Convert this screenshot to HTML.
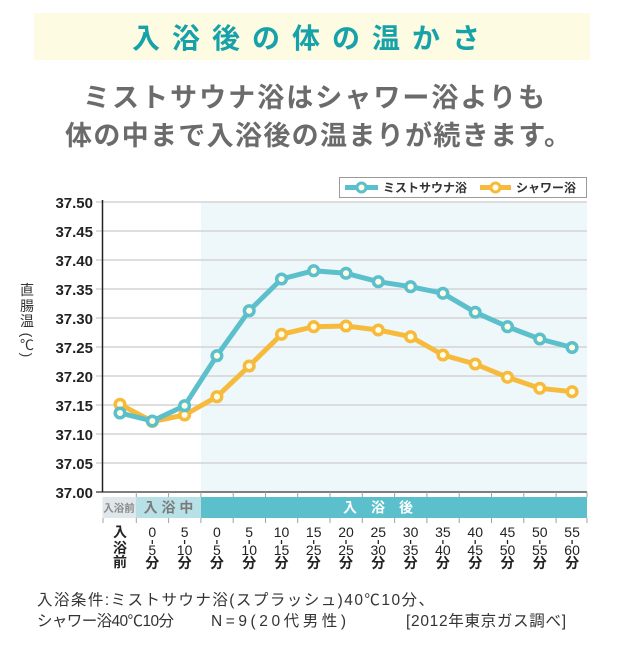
<!DOCTYPE html>
<html><head><meta charset="utf-8">
<style>
html,body{margin:0;padding:0;background:#fff;}
svg{display:block;}
</style></head>
<body>
<svg width="628" height="648" viewBox="0 0 628 648" xmlns="http://www.w3.org/2000/svg" font-family="'Liberation Sans','Noto Sans CJK JP',sans-serif">
<!-- title banner -->
<rect x="34" y="13" width="556" height="47" fill="#fdfbe2"/>
<g font-size="28" font-weight="bold" fill="#17a2aa" text-anchor="middle">
<text x="146" y="48">入</text><text x="186" y="48">浴</text><text x="226" y="48">後</text>
<text x="266" y="48">の</text><text x="306" y="48">体</text><text x="346" y="48">の</text>
<text x="386" y="48">温</text><text x="426" y="48">か</text><text x="466" y="48">さ</text>
</g>
<!-- subtitle -->
<g font-size="27" font-weight="bold" fill="#6b6b6b">
<text x="83" y="107" textLength="462" lengthAdjust="spacing">ミストサウナ浴はシャワー浴よりも</text>
<text x="65" y="145" textLength="506" lengthAdjust="spacing">体の中まで入浴後の温まりが続きます。</text>
</g>

<!-- plot area -->
<rect x="201" y="202" width="386" height="290" fill="#eef7fa"/>
<g stroke="#d3d3d3" stroke-width="1.5">
<line x1="96" y1="202" x2="587" y2="202"/>
<line x1="96" y1="231" x2="587" y2="231"/>
<line x1="96" y1="260" x2="587" y2="260"/>
<line x1="96" y1="289" x2="587" y2="289"/>
<line x1="96" y1="318" x2="587" y2="318"/>
<line x1="96" y1="347" x2="587" y2="347"/>
<line x1="96" y1="376" x2="587" y2="376"/>
<line x1="96" y1="405" x2="587" y2="405"/>
<line x1="96" y1="434" x2="587" y2="434"/>
<line x1="96" y1="463" x2="587" y2="463"/>
</g>
<line x1="96" y1="492" x2="587" y2="492" stroke="#555" stroke-width="1.5"/>
<line x1="102.5" y1="200" x2="102.5" y2="492" stroke="#222" stroke-width="1.5"/>

<!-- y labels -->
<g font-size="15" font-weight="bold" fill="#222" text-anchor="end" font-family="'Liberation Sans',sans-serif">
<text x="93" y="208">37.50</text>
<text x="93" y="237">37.45</text>
<text x="93" y="266">37.40</text>
<text x="93" y="295">37.35</text>
<text x="93" y="324">37.30</text>
<text x="93" y="353">37.25</text>
<text x="93" y="382">37.20</text>
<text x="93" y="411">37.15</text>
<text x="93" y="440">37.10</text>
<text x="93" y="469">37.05</text>
<text x="93" y="498">37.00</text>
</g>

<!-- y title -->
<g font-size="14" fill="#333" text-anchor="middle">
<text x="27" y="295">直</text>
<text x="27" y="311">腸</text>
<text x="27" y="326">温</text>
<text x="27" y="350">℃</text>
</g>
<g font-size="14" fill="#333" text-anchor="middle" font-family="'Liberation Sans',sans-serif">
<text transform="translate(22,335) rotate(90)">(</text>
<text transform="translate(22,355) rotate(90)">)</text>
</g>

<!-- band -->
<rect x="102.5" y="497" width="33.5" height="21" fill="#dfe7ea"/>
<rect x="136" y="497" width="65" height="21" fill="#b8e0e7"/>
<rect x="201" y="497" width="386" height="21" fill="#5bbfcc"/>
<text x="119" y="511.5" font-size="10.5" font-weight="bold" fill="#8a8a8a" text-anchor="middle">入浴前</text>
<text x="168.5" y="512.5" font-size="14" font-weight="bold" fill="#7a7a7a" text-anchor="middle">入 浴 中</text>
<text x="378" y="512.5" font-size="14" font-weight="bold" fill="#fff" text-anchor="middle">入　浴　後</text>

<!-- ticks -->
<g stroke="#a0a0a0" stroke-width="1">
<line x1="136.3" y1="492" x2="136.3" y2="497"/><line x1="168.6" y1="492" x2="168.6" y2="497"/>
<line x1="200.9" y1="492" x2="200.9" y2="497"/><line x1="233.2" y1="492" x2="233.2" y2="497"/>
<line x1="265.5" y1="492" x2="265.5" y2="497"/><line x1="297.7" y1="492" x2="297.7" y2="497"/>
<line x1="330" y1="492" x2="330" y2="497"/><line x1="362.3" y1="492" x2="362.3" y2="497"/>
<line x1="394.6" y1="492" x2="394.6" y2="497"/><line x1="426.9" y1="492" x2="426.9" y2="497"/>
<line x1="459.2" y1="492" x2="459.2" y2="497"/><line x1="491.5" y1="492" x2="491.5" y2="497"/>
<line x1="523.8" y1="492" x2="523.8" y2="497"/><line x1="556.1" y1="492" x2="556.1" y2="497"/>
<line x1="587" y1="492" x2="587" y2="497"/>
<line x1="103" y1="518" x2="103" y2="523"/>
<line x1="136.3" y1="518" x2="136.3" y2="523"/><line x1="168.6" y1="518" x2="168.6" y2="523"/>
<line x1="200.9" y1="518" x2="200.9" y2="523"/><line x1="233.2" y1="518" x2="233.2" y2="523"/>
<line x1="265.5" y1="518" x2="265.5" y2="523"/><line x1="297.7" y1="518" x2="297.7" y2="523"/>
<line x1="330" y1="518" x2="330" y2="523"/><line x1="362.3" y1="518" x2="362.3" y2="523"/>
<line x1="394.6" y1="518" x2="394.6" y2="523"/><line x1="426.9" y1="518" x2="426.9" y2="523"/>
<line x1="459.2" y1="518" x2="459.2" y2="523"/><line x1="491.5" y1="518" x2="491.5" y2="523"/>
<line x1="523.8" y1="518" x2="523.8" y2="523"/><line x1="556.1" y1="518" x2="556.1" y2="523"/>
<line x1="587" y1="518" x2="587" y2="523"/>
</g>

<!-- x labels -->
<g font-size="14" fill="#222" text-anchor="middle">
<text x="120" y="537" font-weight="bold">入</text>
<text x="120" y="553" font-weight="bold">浴</text>
<text x="120" y="567" font-weight="bold">前</text>
</g>
<g font-size="14" fill="#222" text-anchor="middle" font-family="'Liberation Sans',sans-serif">
<text x="152.3" y="537">0</text><text x="152.3" y="555">5</text>
<text x="184.6" y="537">5</text><text x="184.6" y="555">10</text>
<text x="216.9" y="537">0</text><text x="216.9" y="555">5</text>
<text x="249.2" y="537">5</text><text x="249.2" y="555">10</text>
<text x="281.5" y="537">10</text><text x="281.5" y="555">15</text>
<text x="313.7" y="537">15</text><text x="313.7" y="555">25</text>
<text x="346" y="537">20</text><text x="346" y="555">25</text>
<text x="378.3" y="537">25</text><text x="378.3" y="555">30</text>
<text x="410.6" y="537">30</text><text x="410.6" y="555">35</text>
<text x="442.9" y="537">35</text><text x="442.9" y="555">40</text>
<text x="475.2" y="537">40</text><text x="475.2" y="555">45</text>
<text x="507.5" y="537">45</text><text x="507.5" y="555">50</text>
<text x="539.8" y="537">50</text><text x="539.8" y="555">55</text>
<text x="572.1" y="537">55</text><text x="572.1" y="555">60</text>
</g>
<g stroke="#222" stroke-width="1.3">
<line x1="152.3" y1="540" x2="152.3" y2="544"/><line x1="184.6" y1="540" x2="184.6" y2="544"/>
<line x1="216.9" y1="540" x2="216.9" y2="544"/><line x1="249.2" y1="540" x2="249.2" y2="544"/>
<line x1="281.5" y1="540" x2="281.5" y2="544"/><line x1="313.7" y1="540" x2="313.7" y2="544"/>
<line x1="346" y1="540" x2="346" y2="544"/><line x1="378.3" y1="540" x2="378.3" y2="544"/>
<line x1="410.6" y1="540" x2="410.6" y2="544"/><line x1="442.9" y1="540" x2="442.9" y2="544"/>
<line x1="475.2" y1="540" x2="475.2" y2="544"/><line x1="507.5" y1="540" x2="507.5" y2="544"/>
<line x1="539.8" y1="540" x2="539.8" y2="544"/><line x1="572.1" y1="540" x2="572.1" y2="544"/>
</g>
<g font-size="14" fill="#222" text-anchor="middle" font-weight="bold">
<text x="152.3" y="568">分</text><text x="184.6" y="568">分</text><text x="216.9" y="568">分</text>
<text x="249.2" y="568">分</text><text x="281.5" y="568">分</text><text x="313.7" y="568">分</text>
<text x="346" y="568">分</text><text x="378.3" y="568">分</text><text x="410.6" y="568">分</text>
<text x="442.9" y="568">分</text><text x="475.2" y="568">分</text><text x="507.5" y="568">分</text>
<text x="539.8" y="568">分</text><text x="572.1" y="568">分</text>
</g>

<!-- orange series -->
<polyline fill="none" stroke="#f6bb3c" stroke-width="5" stroke-linejoin="round"
points="120,404.3 152.3,421.5 184.6,415 216.9,396.7 249.2,366 281.5,334.3 313.7,326.7 346,326 378.3,330 410.6,336.7 442.9,355 475.2,364 507.5,377.3 539.8,388.3 572.1,391.7"/>
<g fill="#fffde4" stroke="#f6bb3c" stroke-width="3.5">
<circle cx="120" cy="404.3" r="4.8"/><circle cx="152.3" cy="421.5" r="4.8"/><circle cx="184.6" cy="415" r="4.8"/>
<circle cx="216.9" cy="396.7" r="4.8"/><circle cx="249.2" cy="366" r="4.8"/><circle cx="281.5" cy="334.3" r="4.8"/>
<circle cx="313.7" cy="326.7" r="4.8"/><circle cx="346" cy="326" r="4.8"/><circle cx="378.3" cy="330" r="4.8"/>
<circle cx="410.6" cy="336.7" r="4.8"/><circle cx="442.9" cy="355" r="4.8"/><circle cx="475.2" cy="364" r="4.8"/>
<circle cx="507.5" cy="377.3" r="4.8"/><circle cx="539.8" cy="388.3" r="4.8"/><circle cx="572.1" cy="391.7" r="4.8"/>
</g>
<!-- teal series -->
<polyline fill="none" stroke="#5bbfcc" stroke-width="5" stroke-linejoin="round"
points="120,413 152.3,421 184.6,405.7 216.9,355.7 249.2,310.7 281.5,279 313.7,270.7 346,273.3 378.3,281.7 410.6,286.7 442.9,293.3 475.2,312.3 507.5,326.7 539.8,339 572.1,347.5"/>
<g fill="#fffde4" stroke="#5bbfcc" stroke-width="3.5">
<circle cx="120" cy="413" r="4.8"/><circle cx="152.3" cy="421" r="4.8"/><circle cx="184.6" cy="405.7" r="4.8"/>
<circle cx="216.9" cy="355.7" r="4.8"/><circle cx="249.2" cy="310.7" r="4.8"/><circle cx="281.5" cy="279" r="4.8"/>
<circle cx="313.7" cy="270.7" r="4.8"/><circle cx="346" cy="273.3" r="4.8"/><circle cx="378.3" cy="281.7" r="4.8"/>
<circle cx="410.6" cy="286.7" r="4.8"/><circle cx="442.9" cy="293.3" r="4.8"/><circle cx="475.2" cy="312.3" r="4.8"/>
<circle cx="507.5" cy="326.7" r="4.8"/><circle cx="539.8" cy="339" r="4.8"/><circle cx="572.1" cy="347.5" r="4.8"/>
</g>

<!-- legend -->
<rect x="339.5" y="177.5" width="247" height="20" fill="#fff" stroke="#9a9a9a" stroke-width="1"/>
<line x1="345" y1="187.5" x2="378" y2="187.5" stroke="#5bbfcc" stroke-width="5"/>
<circle cx="361.5" cy="187.5" r="4.5" fill="#fffde4" stroke="#5bbfcc" stroke-width="3"/>
<text x="383" y="192" font-size="12" font-weight="bold" fill="#333">ミストサウナ浴</text>
<line x1="480" y1="187.5" x2="511" y2="187.5" stroke="#f6bb3c" stroke-width="5"/>
<circle cx="495.5" cy="187.5" r="4.5" fill="#fffde4" stroke="#f6bb3c" stroke-width="3"/>
<text x="516" y="192" font-size="12" font-weight="bold" fill="#333">シャワー浴</text>

<!-- footer -->
<g font-size="15.5" fill="#333">
<text x="37" y="605" textLength="397" lengthAdjust="spacing">入浴条件:ミストサウナ浴(スプラッシュ)40℃10分、</text>
<text x="37" y="626" textLength="137" lengthAdjust="spacing">シャワー浴40℃10分</text>
<text x="211" y="626" textLength="135" lengthAdjust="spacing">N=9(20代男性)</text>
<text x="406" y="626" textLength="160" lengthAdjust="spacing">[2012年東京ガス調べ]</text>
</g>
</svg>
</body></html>
